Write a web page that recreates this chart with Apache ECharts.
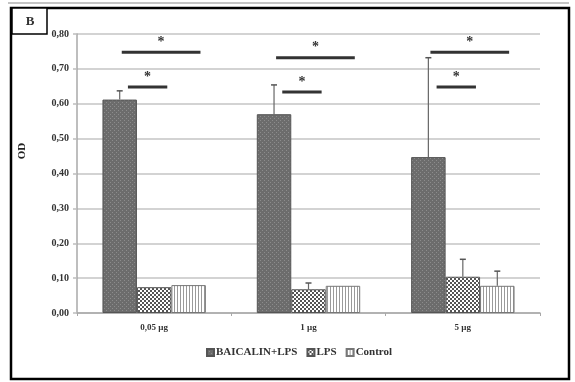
<!DOCTYPE html>
<html><head><meta charset="utf-8">
<script src="https://cdn.jsdelivr.net/npm/echarts@6/dist/echarts.min.js"></script>
<style>html,body{margin:0;padding:0;background:#fff}#c{width:575px;height:382px}</style>
</head><body><div id="c"></div>
<script>
const categories = ['0,05 µg', '1 µg', '5 µg'];
const seriesNames = ['BAICALIN+LPS', 'LPS', 'Control'];
const baicalin = [0.612, 0.570, 0.447];
const baicalinErr = [0.025, 0.084, 0.285];
const lps = [0.074, 0.068, 0.104];
const lpsErr = [0, 0.018, 0.050];
const control = [0.080, 0.078, 0.078];
const controlErr = [0, 0, 0.042];
const sigWide = [0.748, 0.732, 0.748];
const sigNarrow = [0.648, 0.634, 0.648];
const yMin = 0, yMax = 0.8, yStep = 0.1;

function makePattern(w, h, draw) {
  const c = document.createElement('canvas');
  c.width = w; c.height = h;
  const ctx = c.getContext('2d');
  draw(ctx);
  return { image: c, repeat: 'repeat' };
}
const patBaicalin = makePattern(4, 4, ctx => {
  ctx.fillStyle = '#6c6c6c'; ctx.fillRect(0, 0, 4, 4);
  ctx.fillStyle = '#8c8c8c'; ctx.fillRect(0, 0, 1, 1); ctx.fillRect(2, 2, 1, 1);
});
const patLps = makePattern(4, 4, ctx => {
  ctx.fillStyle = '#ffffff'; ctx.fillRect(0, 0, 4, 4);
  ctx.fillStyle = '#555555'; ctx.fillRect(0, 0, 2, 2); ctx.fillRect(2, 2, 2, 2);
});
const patControl = makePattern(3, 1, ctx => {
  ctx.fillStyle = '#ffffff'; ctx.fillRect(0, 0, 3, 1);
  ctx.fillStyle = '#9a9a9a'; ctx.fillRect(0, 0, 1, 1);
});

const CAT_GAP = 0.33;
const means = [baicalin, lps, control];
const errs = [baicalinErr, lpsErr, controlErr];
const errData = [];
means.forEach((arr, s) => arr.forEach((v, i) => errData.push([i, v, errs[s][i], s])));
const sigData = [];
sigWide.forEach((v, i) => sigData.push([i, v, 0]));
sigNarrow.forEach((v, i) => sigData.push([i, v, 1]));

const fontFam = '"Liberation Serif", "Times New Roman", serif';

const chart = echarts.init(document.getElementById('c'), null, { renderer: 'canvas' });
chart.setOption({
  animation: false,
  backgroundColor: '#fff',
  grid: { left: 77, right: 35, top: 34, bottom: 69, containLabel: false },
  xAxis: {
    type: 'category', data: categories,
    axisLine: { show: true, lineStyle: { color: '#a8a8a8', width: 1.5 } },
    axisTick: { show: true, alignWithLabel: false, length: 3, lineStyle: { color: '#a8a8a8' } },
    axisLabel: { color: '#333', fontFamily: fontFam, fontWeight: 'bold', fontSize: 9, margin: 10 },
    splitLine: { show: false }
  },
  yAxis: {
    type: 'value', min: yMin, max: yMax, interval: yStep,
    axisLine: { show: true, lineStyle: { color: '#a8a8a8', width: 1.5 } },
    axisTick: { show: true, length: 4, lineStyle: { color: '#bdbdbd', width: 1.5 } },
    axisLabel: { color: '#333', fontFamily: fontFam, fontWeight: 'bold', fontSize: 10, margin: 8,
      formatter: v => v.toFixed(2).replace('.', ',') },
    splitLine: { show: true, lineStyle: { color: '#c4c4c4', width: 1.5 } }
  },
  legend: {
    data: seriesNames, left: 201, top: 342, itemWidth: 7, itemHeight: 7, itemGap: 9,
    icon: 'rect',
    textStyle: { color: '#333', fontFamily: fontFam, fontWeight: 'bold', fontSize: 11, padding: [0, 0, 0, -3] }
  },
  graphic: [
    { type: 'line', shape: { x1: 8, y1: 3, x2: 569, y2: 3 }, style: { stroke: '#b0b0b0', lineWidth: 1.5 } },
    { type: 'rect', shape: { x: 11, y: 8, width: 558, height: 371 }, style: { fill: null, stroke: '#000', lineWidth: 2.5 } },
    { type: 'rect', shape: { x: 12, y: 8, width: 35, height: 26 }, style: { fill: '#fff', stroke: '#000', lineWidth: 1.5 } },
    { type: 'text', x: 30, y: 22, style: { text: 'B', fill: '#333', font: 'bold 13px ' + fontFam, textAlign: 'center', textVerticalAlign: 'middle' } },
    { type: 'text', x: 22, y: 151, rotation: Math.PI / 2, style: { text: 'OD', fill: '#222', font: 'bold 11px ' + fontFam, textAlign: 'center', textVerticalAlign: 'middle' } }
  ],
  series: [
    { name: seriesNames[0], type: 'bar', data: baicalin, barGap: '0%', barCategoryGap: (CAT_GAP * 100) + '%',
      itemStyle: { color: patBaicalin, borderColor: '#555', borderWidth: 1 } },
    { name: seriesNames[1], type: 'bar', data: lps, barGap: '0%', barCategoryGap: (CAT_GAP * 100) + '%',
      itemStyle: { color: patLps, borderColor: '#555', borderWidth: 1 } },
    { name: seriesNames[2], type: 'bar', data: control, barGap: '0%', barCategoryGap: (CAT_GAP * 100) + '%',
      itemStyle: { color: patControl, borderColor: '#777', borderWidth: 1 } },
    { type: 'custom', data: errData, encode: { x: 0, y: 1 }, z: 5,
      renderItem: (params, api) => {
        const idx = api.value(0), v = api.value(1), e = api.value(2), s = api.value(3);
        if (!(e > 0)) return null;
        const bw = api.size([1, 0])[0];
        const barW = bw * (1 - CAT_GAP) / 3;
        const base = api.coord([idx, v]);
        const top = api.coord([idx, v + e]);
        const x = base[0] + (s - 1) * barW;
        return { type: 'group', children: [
          { type: 'line', shape: { x1: x, y1: base[1], x2: x, y2: top[1] }, style: { stroke: '#666', lineWidth: 1.2 } },
          { type: 'line', shape: { x1: x - 3, y1: top[1], x2: x + 3, y2: top[1] }, style: { stroke: '#555', lineWidth: 1.5 } }
        ] };
      } },
    { type: 'custom', data: sigData, encode: { x: 0, y: 1 }, z: 6,
      renderItem: (params, api) => {
        const idx = api.value(0), v = api.value(1), k = api.value(2);
        const bw = api.size([1, 0])[0];
        const c = api.coord([idx, v]);
        const x1 = c[0] + (k === 0 ? -0.21 : -0.17) * bw;
        const x2 = c[0] + (k === 0 ? 0.30 : 0.085) * bw;
        return { type: 'group', children: [
          { type: 'line', shape: { x1: x1, y1: c[1], x2: x2, y2: c[1] }, style: { stroke: '#333', lineWidth: 3 } },
          { type: 'text', x: (x1 + x2) / 2, y: c[1] - 10, style: { text: '*', fill: '#333', font: 'bold 14px ' + fontFam, textAlign: 'center', textVerticalAlign: 'middle' } }
        ] };
      } }
  ]
});
</script></body></html>
